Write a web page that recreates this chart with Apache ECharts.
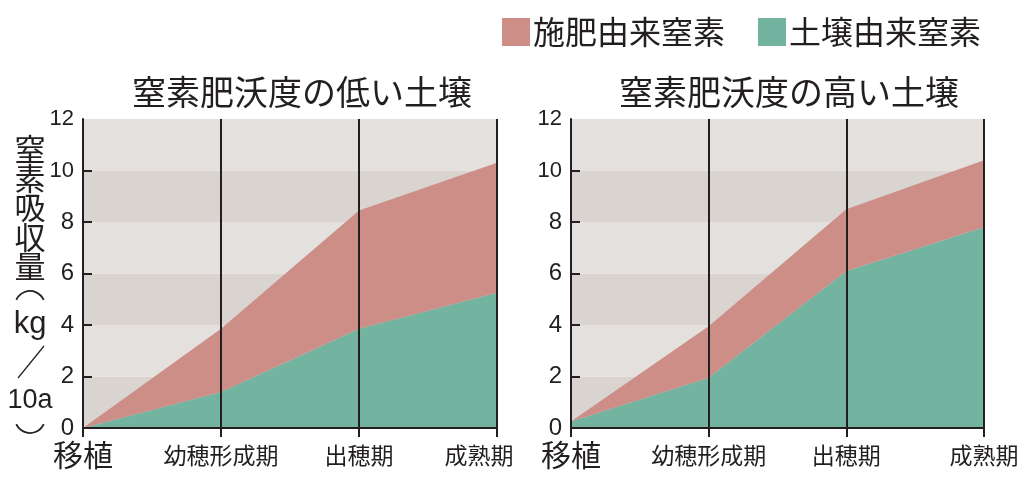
<!DOCTYPE html>
<html><head><meta charset="utf-8">
<script src="https://cdn.jsdelivr.net/npm/echarts@6/dist/echarts.min.js"></script>
<style>html,body{margin:0;padding:0;background:#fff}#c{width:1024px;height:491px}</style>
</head><body><div id="c"></div>
<script>
const categories = ['移植', '幼穂形成期', '出穂期', '成熟期'];
const seriesNames = ['施肥由来窒素', '土壌由来窒素'];
const panelTitles = ['窒素肥沃度の低い土壌', '窒素肥沃度の高い土壌'];
// 窒素肥沃度の低い土壌
const lowSoil = [0, 1.4, 3.85, 5.25];
const lowFert = [0, 2.45, 4.6, 5.05];
// 窒素肥沃度の高い土壌
const highSoil = [0.25, 1.95, 6.1, 7.8];
const highFert = [0, 2.0, 2.4, 2.6];
const yTicks = [2, 4, 6, 8, 10];
const yAxisName = ['窒', '素', '吸', '収', '量', '（', 'kg', '／', '10a', '）'];

const INK = '#231F20';
const RED = '#CD8E88';
const GREEN = '#72B4A0';
const JP = '"Noto Sans CJK JP", "Noto Sans", sans-serif';

const chart = echarts.init(document.getElementById('c'));

function xAxisCfg(gi) {
  return {
    gridIndex: gi, type: 'category', data: categories, boundaryGap: false,
    axisLine: { show: true, lineStyle: { color: INK, width: 2 } },
    axisTick: { show: true, inside: false, length: 9, lineStyle: { color: INK, width: 2 } },
    splitLine: { show: false },
    axisLabel: {
      margin: 11, color: INK, interval: 0,
      formatter: (v, i) => {
        if (v === '移植') return '{b|' + v + '}';
        if (gi === 0 && i === categories.length - 1) return '{e|' + v + '}';
        return '{s|' + v + '}';
      },
      rich: {
        b: { fontFamily: JP, fontSize: 30, color: INK, lineHeight: 32 },
        s: { fontFamily: JP, fontSize: 23, color: INK, lineHeight: 32 },
        e: { fontFamily: JP, fontSize: 23, color: INK, lineHeight: 32, padding: [0, 36, 0, 0] }
      }
    }
  };
}
// background bands (full 0..12 ticks)
function yBandCfg(gi) {
  return {
    gridIndex: gi, type: 'value', min: 0, max: 12, interval: 2,
    axisLine: { show: false }, axisTick: { show: false }, axisLabel: { show: false },
    splitLine: { show: false },
    splitArea: { show: true, areaStyle: { color: ['#D9D4D0', '#E4E0DD'] } }
  };
}
function yAxisCfg(gi) {
  return {
    gridIndex: gi, type: 'value', min: 0, max: 12, interval: 2, position: 'left', offset: 0,
    axisLine: { show: true, onZero: false, lineStyle: { color: INK, width: 2 } },
    axisTick: { show: true, inside: true, length: 9, customValues: yTicks, lineStyle: { color: INK, width: 2 } },
    splitLine: { show: false },
    splitArea: { show: false },
    axisLabel: {
      margin: 9, color: INK,
      formatter: v => v >= 10 ? '{n|' + v + '}' : '{w|' + v + '}',
      rich: {
        n: { fontFamily: '"Liberation Sans Narrow", "Liberation Sans", sans-serif', fontSize: 22, color: INK },
        w: { fontFamily: '"Liberation Sans", Arial, sans-serif', fontSize: 24, color: INK }
      }
    }
  };
}
function seriesFor(gi, soil, fert) {
  return [
    {
      name: seriesNames[1], type: 'line', xAxisIndex: gi, yAxisIndex: gi * 2 + 1, stack: 's' + gi,
      data: soil, symbol: 'none', lineStyle: { width: 0 }, itemStyle: { color: GREEN },
      areaStyle: { color: GREEN, opacity: 1 }
    },
    {
      name: seriesNames[0], type: 'line', xAxisIndex: gi, yAxisIndex: gi * 2 + 1, stack: 's' + gi,
      data: fert, symbol: 'none', lineStyle: { width: 0 }, itemStyle: { color: RED },
      areaStyle: { color: RED, opacity: 1 },
      markLine: {
        silent: true, symbol: ['none', 'none'], label: { show: false }, animation: false,
        lineStyle: { color: INK, width: 2, type: 'solid' },
        data: categories.map(c => ({ xAxis: c })).concat([{ yAxis: 0 }])
      }
    }
  ];
}

const nameGraphics = [];
const nameY = [149, 178, 207, 237, 266, 306, 324, 360, 401, 418];
yAxisName.forEach((ch, i) => {
  if (ch === '／') {
    nameGraphics.push({ type: 'line', shape: { x1: 18, y1: 378, x2: 44, y2: 346 }, style: { stroke: INK, lineWidth: 1.2 } });
    return;
  }
  if (ch === '（' || ch === '）') {
    const up = ch === '（';
    const c = up ? 1.5 * Math.PI : 0.5 * Math.PI;
    nameGraphics.push({
      type: 'arc',
      shape: { cx: 30, cy: nameY[i], r: 15, startAngle: c - 1.15, endAngle: c + 1.15, clockwise: true },
      style: { stroke: INK, lineWidth: 1.8, fill: null }
    });
    return;
  }
  let font = 'normal 31px ' + JP;
  if (ch === 'kg') font = 'normal 31px "Liberation Sans", Arial, sans-serif';
  if (ch === '10a') font = 'normal 27px "Liberation Sans Narrow", "Liberation Sans", sans-serif';
  nameGraphics.push({
    type: 'text', x: 30, y: nameY[i],
    style: { text: ch, font: font, fill: INK, align: 'center', verticalAlign: 'middle' }
  });
});

chart.setOption({
  animation: false,
  backgroundColor: '#fff',
  title: [
    { text: panelTitles[0], left: 297, top: 70, textAlign: 'center', textStyle: { fontFamily: JP, fontSize: 34, fontWeight: 'normal', color: INK } },
    { text: panelTitles[1], left: 784, top: 70, textAlign: 'center', textStyle: { fontFamily: JP, fontSize: 34, fontWeight: 'normal', color: INK } }
  ],
  legend: {
    data: seriesNames, left: 502, top: 16, padding: 0, itemWidth: 28, itemHeight: 28, itemGap: 33,
    icon: 'rect', selectedMode: false,
    textStyle: { fontFamily: JP, fontSize: 32, color: INK, padding: [0, 0, 0, -2] }
  },
  grid: [
    { left: 83, right: 527, top: 119, bottom: 63 },
    { left: 571, right: 40, top: 119, bottom: 63 }
  ],
  xAxis: [xAxisCfg(0), xAxisCfg(1)],
  yAxis: [yBandCfg(0), yAxisCfg(0), yBandCfg(1), yAxisCfg(1)],
  series: seriesFor(0, lowSoil, lowFert).concat(seriesFor(1, highSoil, highFert)),
  graphic: nameGraphics
});
</script></body></html>
